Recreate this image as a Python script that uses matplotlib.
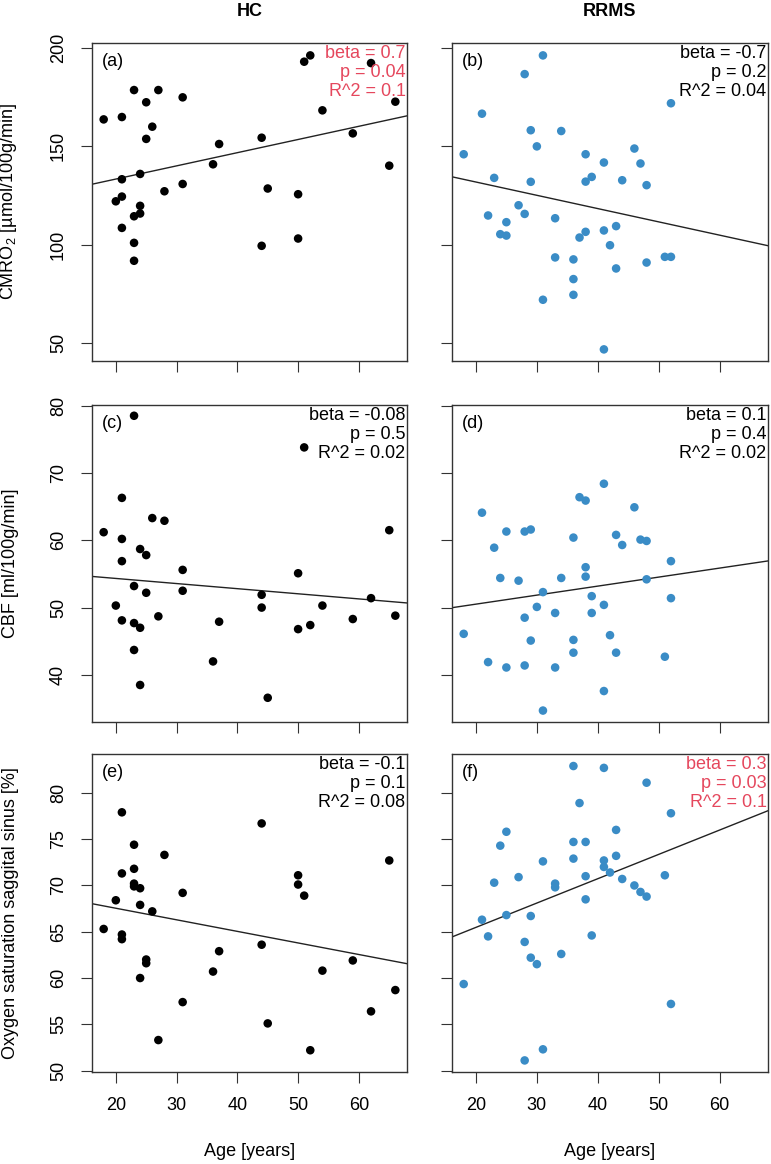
from __future__ import annotations

from typing import Any, Sequence

import matplotlib

matplotlib.use("Agg")
import matplotlib.pyplot as plt

plt.rcParams["font.family"] = ["Liberation Sans", "DejaVu Sans"]
plt.rcParams["mathtext.fontset"] = "custom"
plt.rcParams["mathtext.rm"] = "Liberation Sans"

# --- HC group -------------------------------------------------------------
HC_CMRO2_AGE = [18, 21, 23, 27, 25, 26, 25, 31, 37, 36, 24, 21, 20, 21, 24, 24, 23,
                21, 23, 23, 28, 31, 44, 45, 44, 50, 50, 51, 52, 54, 59, 62, 66, 65]
HC_CMRO2 = [163.6, 164.8, 178.5, 178.5, 172.3, 159.9, 153.7, 174.8, 151.1, 140.8,
            135.9, 133.2, 122.0, 124.4, 119.7, 115.8, 114.4, 108.5, 100.9, 91.8,
            127.1, 130.8, 154.3, 128.5, 99.4, 125.6, 103.1, 192.9, 196.1, 168.2,
            156.5, 192.2, 172.6, 140.1]

HC_CBF_AGE = [18, 21, 23, 26, 28, 21, 24, 25, 21, 31, 23, 25, 31, 20, 21, 23, 24,
              27, 23, 24, 37, 36, 44, 44, 45, 50, 50, 51, 52, 54, 59, 62, 65, 66]
HC_CBF = [61.2, 66.3, 78.5, 63.3, 62.9, 60.2, 58.7, 57.8, 56.9, 55.6, 53.2, 52.2,
          52.5, 50.3, 48.1, 47.7, 47.0, 48.7, 43.7, 38.5, 47.9, 42.0, 51.9, 50.0,
          36.6, 55.1, 46.8, 73.8, 47.4, 50.3, 48.3, 51.4, 61.5, 48.8]

HC_SO2_AGE = [18, 21, 23, 28, 23, 21, 23, 23, 24, 31, 20, 24, 26, 21, 21, 25, 25,
              24, 31, 27, 37, 36, 44, 44, 45, 50, 50, 51, 52, 54, 59, 62, 65, 66]
HC_SO2 = [65.3, 77.9, 74.4, 73.3, 71.8, 71.3, 70.2, 69.9, 69.7, 69.2, 68.4, 67.9,
          67.2, 64.7, 64.2, 62.0, 61.6, 60.0, 57.4, 53.3, 62.9, 60.7, 76.7, 63.6,
          55.1, 71.1, 70.1, 68.9, 52.2, 60.8, 61.9, 56.4, 72.7, 58.7]

# --- RRMS group -----------------------------------------------------------
RRMS_CMRO2_AGE = [18, 21, 28, 31, 29, 34, 30, 23, 29, 22, 27, 28, 25, 24, 25, 33,
                  33, 36, 36, 36, 31, 38, 38, 39, 37, 38, 41, 41, 42, 43, 43, 44,
                  46, 47, 48, 48, 51, 52, 52, 41]
RRMS_CMRO2 = [145.9, 166.5, 186.6, 196.1, 158.1, 157.7, 149.9, 133.9, 131.9, 114.8,
              120.0, 115.6, 111.4, 105.3, 104.6, 113.4, 93.5, 92.5, 82.5, 74.5,
              72.0, 145.9, 132.0, 134.4, 103.6, 106.5, 141.7, 107.2, 99.7, 109.4,
              87.9, 132.7, 148.8, 141.2, 130.2, 90.9, 93.8, 93.8, 171.8, 46.8]

RRMS_CBF_AGE = [18, 21, 23, 22, 24, 25, 25, 27, 28, 29, 28, 28, 29, 30, 31, 31, 33,
                33, 34, 36, 36, 36, 37, 38, 38, 38, 39, 39, 41, 41, 41, 42, 43, 43,
                44, 46, 47, 48, 48, 51, 52, 52]
RRMS_CBF = [46.1, 64.1, 58.9, 41.9, 54.4, 61.3, 41.1, 54.0, 61.3, 61.6, 48.5, 41.4,
            45.1, 50.1, 52.3, 34.7, 49.2, 41.1, 54.4, 60.4, 45.2, 43.3, 66.4, 65.9,
            56.0, 54.6, 51.7, 49.2, 68.4, 50.4, 37.6, 45.9, 60.8, 43.3, 59.3, 64.9,
            60.1, 59.9, 54.2, 42.7, 56.9, 51.4]

RRMS_SO2_AGE = [18, 21, 22, 23, 24, 25, 25, 27, 28, 29, 29, 30, 28, 31, 31, 33, 33,
                34, 36, 36, 36, 37, 38, 38, 38, 39, 41, 41, 41, 42, 43, 43, 44, 46,
                47, 48, 48, 51, 52, 52]
RRMS_SO2 = [59.35, 66.3, 64.5, 70.3, 74.3, 75.8, 66.8, 70.9, 63.9, 62.2, 66.7, 61.5,
            51.1, 52.3, 72.6, 70.2, 69.8, 62.6, 82.9, 74.7, 72.9, 78.9, 74.7, 71.0,
            68.5, 64.6, 82.7, 72.7, 72.0, 71.4, 76.0, 73.2, 70.7, 70.0, 69.3, 68.8,
            81.1, 71.1, 77.8, 57.2]

# --- fitted lines and statistics, panels (a)..(f) -------------------------
PANEL_TAGS = ["(a)", "(b)", "(c)", "(d)", "(e)", "(f)"]
FIT_INTERCEPT = [119.9, 145.3, 55.85, 47.83, 70.04, 60.21]
FIT_SLOPE = [0.67, -0.675, -0.076, 0.134, -0.125, 0.263]
STAT_BETA = ["0.7", "-0.7", "-0.08", "0.1", "-0.1", "0.3"]
STAT_P = ["0.04", "0.2", "0.5", "0.4", "0.1", "0.03"]
STAT_R2 = ["0.1", "0.04", "0.02", "0.02", "0.08", "0.1"]
SIGNIFICANT = [True, False, False, False, False, True]

ROW_LABELS = [
    "CMRO$_\\mathregular{2}$ [µmol/100g/min]",
    "CBF [ml/100g/min]",
    "Oxygen saturation saggital sinus [%]",
]
ROW_YTICKS = [[50, 100, 150, 200], [40, 50, 60, 70, 80], [50, 55, 60, 65, 70, 75, 80]]
ROW_YLIM = [(40.9, 202.4), (33.0, 80.1), (49.85, 84.2)]
AGE_TICKS = [20, 30, 40, 50, 60]
AGE_LIM = (16.08, 67.92)

HC_COLOR = "black"
RRMS_COLOR = "#3a8cc6"
SIG_COLOR = "#e5475d"
EDGE_COLOR = "#333333"
FONT_SIZE = 13

W, H = 771, 1164
COL_X = [(92, 407), (452, 768)]
ROW_Y = [(43, 361), (405, 722), (754, 1072)]


def _panel_axes(fig: Any, row: int, col: int) -> Any:
    x0, x1 = COL_X[col]
    y0, y1 = ROW_Y[row]
    return fig.add_axes([x0 / W, 1 - y1 / H, (x1 - x0) / W, (y1 - y0) / H])


def _draw_panel(
    ax: Any,
    *,
    index: int,
    ages: Sequence[float],
    values: Sequence[float],
    color: str,
    row: int,
    col: int,
) -> None:
    ax.scatter(ages, values, s=38, color=color, edgecolors="none", zorder=3)
    ax.axline((0, FIT_INTERCEPT[index]), slope=FIT_SLOPE[index], color="#222222",
              linewidth=1.0, zorder=2)
    ax.set_xlim(*AGE_LIM)
    ax.set_ylim(*ROW_YLIM[row])
    ax.set_xticks(AGE_TICKS)
    ax.set_yticks(ROW_YTICKS[row])
    for spine in ax.spines.values():
        spine.set_color(EDGE_COLOR)
        spine.set_linewidth(1.0)
    ax.tick_params(direction="out", length=8, width=0.8, color=EDGE_COLOR,
                   labelsize=FONT_SIZE, pad=10)
    ax.tick_params(axis="y", labelrotation=90)
    for label in ax.get_yticklabels():
        label.set_va("center")
    if col == 1:
        ax.tick_params(axis="y", labelleft=False)
    if row < 2:
        ax.tick_params(axis="x", labelbottom=False)

    stat_color = SIG_COLOR if SIGNIFICANT[index] else "black"
    stat_lines = [
        f"beta = {STAT_BETA[index]}",
        f"p = {STAT_P[index]}",
        f"R^2 = {STAT_R2[index]}",
    ]
    for line_no, text in enumerate(stat_lines):
        ax.annotate(text, xy=(1, 1), xycoords="axes fraction",
                    xytext=(-1, -7.4 - 13.7 * line_no), textcoords="offset points",
                    ha="right", va="center", color=stat_color, fontsize=FONT_SIZE)
    ax.annotate(PANEL_TAGS[index], xy=(0, 1), xycoords="axes fraction",
                xytext=(7.2, -13), textcoords="offset points",
                ha="left", va="center", fontsize=FONT_SIZE)

    if col == 0:
        ax.set_ylabel(ROW_LABELS[row], fontsize=FONT_SIZE)
        ax.yaxis.set_label_coords(-0.232, 0.5)


def main() -> None:
    fig = plt.figure(figsize=(W / 100, H / 100), dpi=100)
    groups = [
        [(HC_CMRO2_AGE, HC_CMRO2), (RRMS_CMRO2_AGE, RRMS_CMRO2)],
        [(HC_CBF_AGE, HC_CBF), (RRMS_CBF_AGE, RRMS_CBF)],
        [(HC_SO2_AGE, HC_SO2), (RRMS_SO2_AGE, RRMS_SO2)],
    ]
    colors = [HC_COLOR, RRMS_COLOR]
    for row in range(3):
        for col in range(2):
            ax = _panel_axes(fig, row, col)
            ages, values = groups[row][col]
            _draw_panel(ax, index=row * 2 + col, ages=ages, values=values,
                        color=colors[col], row=row, col=col)

    for col, title in enumerate(["HC", "RRMS"]):
        x_mid = sum(COL_X[col]) / 2 / W
        fig.text(x_mid, 1 - 12 / H, title, ha="center", va="center",
                 fontsize=FONT_SIZE, fontweight="bold")
        fig.text(x_mid, 1 - 1151 / H, "Age [years]", ha="center", va="center",
                 fontsize=FONT_SIZE)

    fig.savefig("out.png", dpi=100, facecolor="white")
    plt.close(fig)


if __name__ == "__main__":
    main()
